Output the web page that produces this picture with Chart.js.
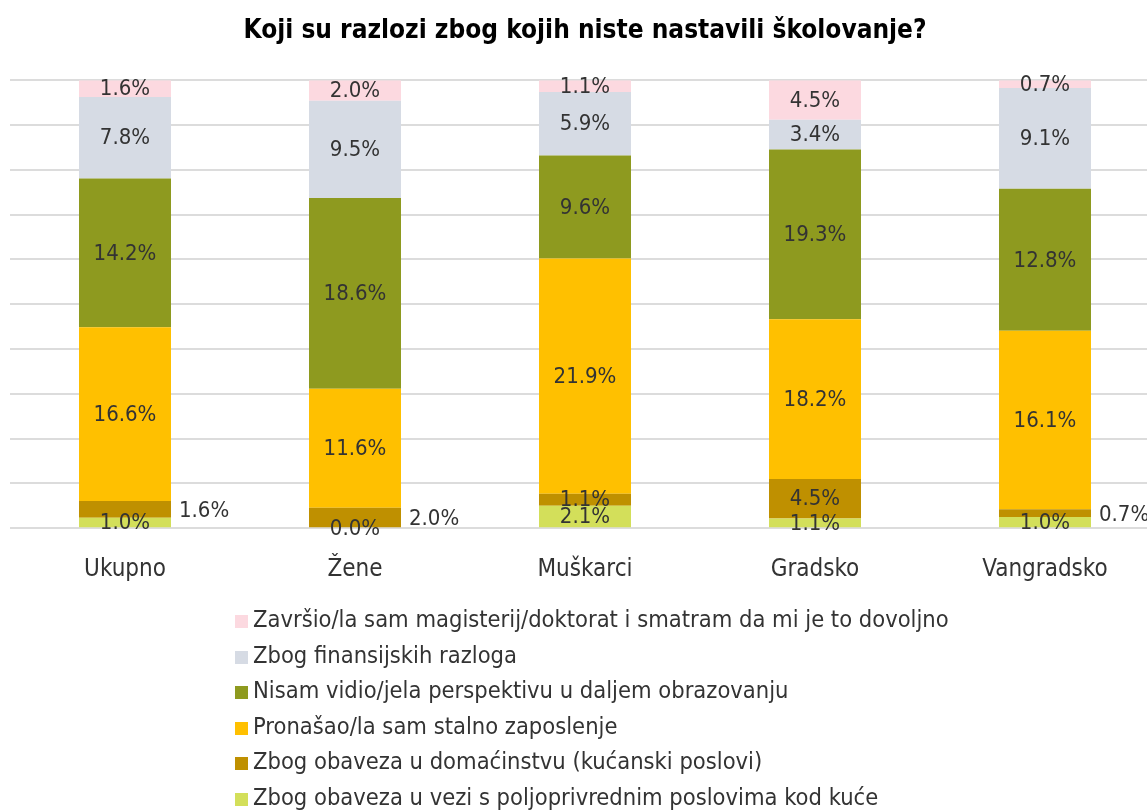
<!DOCTYPE html>
<html>
<head>
<meta charset="utf-8">
<script src="https://cdn.jsdelivr.net/npm/chart.js@4.4.1/dist/chart.umd.min.js"></script>
<style>
  body { margin: 0; background: #fff; overflow: hidden; }
  #wrap { position: relative; width: 1160px; height: 812px; }
  #legend { position: absolute; left: 235px; top: 602px; font-family: 'Liberation Sans Narrow', 'DejaVu Sans Condensed', sans-serif; font-size: 23.5px; color: #333; }
  #legend div { height: 35.6px; line-height: 35.6px; white-space: nowrap; }
  #legend span { display: inline-block; width: 13px; height: 13px; margin-right: 5px; vertical-align: -1px; }
</style>
</head>
<body>
<div id="wrap">
  <canvas id="chart" width="1160" height="812"></canvas>
  <div id="legend"></div>
</div>
<script>
// kategorije i vrijednosti (%)
const categories = ['Ukupno', 'Žene', 'Muškarci', 'Gradsko', 'Vangradsko'];

const zavrsio = [1.6, 2.0, 1.1, 4.5, 0.7];
const finansije = [7.8, 9.5, 5.9, 3.4, 9.1];
const perspektiva = [14.2, 18.6, 9.6, 19.3, 12.8];
const zaposlenje = [16.6, 11.6, 21.9, 18.2, 16.1];
const domacinstvo = [1.6, 2.0, 1.1, 4.5, 0.7];
const poljoprivreda = [1.0, 0.0, 2.1, 1.1, 1.0];

// od dna prema vrhu
const series = [
  { label: 'Zbog obaveza u vezi s poljoprivrednim poslovima kod kuće', values: poljoprivreda, color: '#d3df5a' },
  { label: 'Zbog obaveza u domaćinstvu (kućanski poslovi)', values: domacinstvo, color: '#bf9000' },
  { label: 'Pronašao/la sam stalno zaposlenje', values: zaposlenje, color: '#ffc000' },
  { label: 'Nisam vidio/jela perspektivu u daljem obrazovanju', values: perspektiva, color: '#8e9a1f' },
  { label: 'Zbog finansijskih razloga', values: finansije, color: '#d6dbe4' },
  { label: 'Završio/la sam magisterij/doktorat i smatram da mi je to dovoljno', values: zavrsio, color: '#fcd9e0' }
];

// labele koje stoje desno od stupca (serija 1 = domaćinstvo)
const outsideLabels = { 1: [0, 1, 4] };

const totals = categories.map((c, j) => series.reduce((s, d) => s + d.values[j], 0));

const FONT = "'Liberation Sans Narrow', 'DejaVu Sans Condensed', sans-serif";

const segLabels = {
  id: 'segLabels',
  afterDatasetsDraw(chart) {
    const ctx = chart.ctx;
    ctx.save();
    ctx.font = '22px ' + FONT;
    ctx.fillStyle = '#333';
    ctx.textBaseline = 'middle';
    chart.data.datasets.forEach((ds, i) => {
      const meta = chart.getDatasetMeta(i);
      meta.data.forEach((bar, j) => {
        const txt = ds.raw[j].toFixed(1) + '%';
        const cy = (bar.y + bar.base) / 2;
        const out = outsideLabels[i] && outsideLabels[i].includes(j);
        if (out) {
          ctx.textAlign = 'left';
          ctx.fillText(txt, bar.x + bar.width / 2 + 8, cy + 2);
        } else {
          ctx.textAlign = 'center';
          ctx.fillText(txt, bar.x, cy + 1);
        }
      });
    });
    ctx.restore();
  }
};

const chart = new Chart(document.getElementById('chart'), {
  type: 'bar',
  data: {
    labels: categories,
    datasets: series.map(s => ({
      label: s.label,
      raw: s.values,
      data: s.values.map((v, j) => v / totals[j] * 100),
      backgroundColor: s.color,
      borderWidth: 0,
      barPercentage: 0.4,
      categoryPercentage: 1
    }))
  },
  options: {
    responsive: false,
    animation: false,
    devicePixelRatio: 1,
    layout: { padding: { left: 10, right: 0, top: 0, bottom: 209 } },
    plugins: {
      legend: { display: false },
      tooltip: { enabled: false },
      title: {
        display: true,
        text: 'Koji su razlozi zbog kojih niste nastavili školovanje?',
        color: '#000',
        font: { family: FONT, size: 26, weight: 'bold' },
        padding: { top: 16, bottom: 33 }
      }
    },
    scales: {
      x: {
        stacked: true,
        grid: { display: false },
        border: { display: false },
        ticks: { color: '#333', font: { family: FONT, size: 24 }, padding: 19 }
      },
      y: {
        stacked: true,
        min: 0,
        max: 100,
        ticks: { display: false, stepSize: 10 },
        border: { display: false },
        grid: { color: '#dcdcdc', lineWidth: 2, drawTicks: false }
      }
    }
  },
  plugins: [segLabels]
});

// legenda
const legend = document.getElementById('legend');
series.slice().reverse().forEach(s => {
  const row = document.createElement('div');
  row.innerHTML = '<span style="background:' + s.color + '"></span>' + s.label;
  legend.appendChild(row);
});
</script>
</body>
</html>
